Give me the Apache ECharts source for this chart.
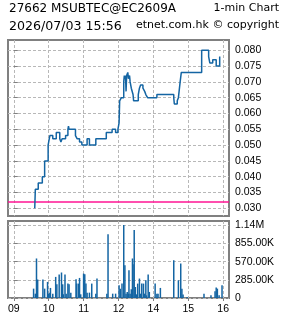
<!DOCTYPE html>
<html>
<head>
    <meta charset="utf-8">
    <title>1-min Chart</title>
    <script src="https://cdn.jsdelivr.net/npm/echarts@6/dist/echarts.min.js"></script>
    <style>
        body { margin: 0; background: #fff; }
    </style>
</head>
<body>
    <div id="main" style="width: 285px;height:318px;"></div>
    <script type="text/javascript">
        // minutes from 09:00, lunch hour removed (12:00 == 13:00)
        var hourTicks = [0, 60, 120, 180, 240, 300, 360];
        var hourLabels = ['09', '10', '11', '12', '14', '15', '16'];
        var xMin = -10, xMax = 370;

        var priceTicks = [0.030, 0.035, 0.040, 0.045, 0.050, 0.055, 0.060, 0.065, 0.070, 0.075, 0.080];
        var prevClose = 0.032;

        var priceTimes = [36, 37, 42, 49, 53, 59, 60, 62, 67, 73, 79, 81, 83, 89, 93, 94, 95, 106, 109, 113, 117, 126, 130, 141,
            159, 169, 175, 179, 181, 182, 185, 189, 190, 191, 192, 193, 194, 196, 197, 199, 200, 202, 205, 206, 214, 216,
            218, 222, 225, 227, 230, 246, 275, 276, 281, 283, 286, 288, 323, 335, 337, 342, 348, 354];
        var priceValues = [0.030, 0.036, 0.038, 0.040, 0.045, 0.050, 0.051, 0.053, 0.052, 0.054, 0.052, 0.051, 0.052, 0.053,
            0.055, 0.056, 0.055, 0.053, 0.052, 0.051, 0.050, 0.052, 0.050, 0.052, 0.054, 0.055, 0.054, 0.055, 0.057, 0.064,
            0.065, 0.070, 0.072, 0.071, 0.072, 0.067, 0.072, 0.073, 0.071, 0.072, 0.070, 0.068, 0.066, 0.064, 0.066, 0.068,
            0.069, 0.068, 0.067, 0.066, 0.065, 0.066, 0.065, 0.063, 0.064, 0.065, 0.070, 0.073, 0.080, 0.078, 0.076, 0.077,
            0.075, 0.078];

        var volTicks = [0, 285000, 570000, 855000, 1140000];
        var volLabels = ['0', '285.00K', '570.00K', '855.00K', '1.14M'];

        var volTimes = [34, 37, 39, 41, 50, 53, 58, 60, 62, 63, 67, 72, 74, 78, 82, 84, 85, 88, 90, 93, 95, 98, 107, 108,
            111, 113, 115, 120, 122, 124, 126, 130, 134, 141, 143, 160, 162, 170, 175, 181, 183, 186, 189, 191, 193, 195,
            197, 198, 200, 202, 204, 205, 207, 209, 211, 213, 216, 218, 220, 223, 225, 227, 228, 231, 233, 243, 246, 248,
            252, 275, 283, 287, 289, 291, 298, 327, 339, 346, 348, 350, 353, 358];
        var volValues = [147000, 68000, 620000, 290000, 290000, 147000, 252000, 68000, 84000, 158000, 68000, 331000, 215000,
            368000, 400000, 215000, 58000, 368000, 68000, 226000, 215000, 84000, 294000, 226000, 226000, 315000, 58000,
            383000, 373000, 226000, 84000, 84000, 226000, 68000, 305000, 68000, 1000000, 68000, 68000, 200000, 147000,
            226000, 1145000, 515000, 68000, 95000, 68000, 436000, 68000, 137000, 620000, 530000, 1066000, 173000, 58000,
            226000, 305000, 68000, 226000, 226000, 68000, 278000, 42000, 368000, 95000, 226000, 68000, 68000, 158000,
            594000, 278000, 541000, 147000, 53000, 16000, 68000, 42000, 105000, 163000, 147000, 42000, 200000];

        var priceData = priceTimes.map(function (t, i) { return [t, priceValues[i]]; });
        var volData = volTimes.map(function (t, i) { return [t, volValues[i]]; });

        var blue = '#1465a3';
        var grey = '#808080';
        var labelFont = { color: '#000', fontSize: 10.5, fontFamily: 'Liberation Sans' };
        var gridDash = { color: '#b8b8b8', width: 1, type: [3, 2] };

        function headText(text, pos, top, size) {
            var t = {
                text: text, top: top, padding: 0,
                textStyle: { color: '#000', fontSize: size, fontWeight: 'normal', fontFamily: 'DejaVu Sans' }
            };
            if (pos.left !== undefined) t.left = pos.left; else t.right = pos.right;
            return t;
        }

        var myChart = echarts.init(document.getElementById('main'));
        var option = {
            animation: false,
            backgroundColor: '#fff',
            title: [
                headText('27662 MSUBTEC@EC2609A', { left: 9 }, 3, 12),
                headText('1-min Chart', { right: 6 }, 3, 11),
                headText('2026/07/03 15:56', { left: 9 }, 20, 12.6),
                headText('etnet.com.hk \u00a9 copyright', { right: 6 }, 20, 11)
            ],
            grid: [
                { left: 8, top: 40, width: 221, height: 176, show: true, borderColor: grey, borderWidth: 2 },
                { left: 8, top: 221, width: 221, height: 77, show: true, borderColor: grey, borderWidth: 2 }
            ],
            xAxis: [
                {
                    type: 'value', gridIndex: 0, min: xMin, max: xMax,
                    axisLine: { show: false },
                    axisTick: { show: false, customValues: hourTicks },
                    axisLabel: { show: false, customValues: hourTicks },
                    splitLine: { show: true, lineStyle: gridDash }
                },
                {
                    type: 'value', gridIndex: 1, min: xMin, max: xMax,
                    axisLine: { show: false },
                    axisTick: { show: true, length: 3, lineStyle: { color: grey }, customValues: hourTicks },
                    axisLabel: Object.assign({
                        margin: 6,
                        customValues: hourTicks,
                        formatter: function (v) { return hourLabels[hourTicks.indexOf(v)]; }
                    }, labelFont),
                    splitLine: { show: true, lineStyle: gridDash }
                }
            ],
            yAxis: [
                {
                    type: 'value', gridIndex: 0, position: 'right', min: 0.02756, max: 0.08326,
                    axisLine: { show: false },
                    axisTick: { show: true, length: 4, lineStyle: { color: grey }, customValues: priceTicks },
                    axisLabel: Object.assign({
                        margin: 6,
                        customValues: priceTicks,
                        formatter: function (v) { return v.toFixed(3); }
                    }, labelFont),
                    splitLine: { show: true, lineStyle: gridDash }
                },
                {
                    type: 'value', gridIndex: 1, position: 'right', min: 0, max: 1208000,
                    axisLine: { show: false },
                    axisTick: { show: true, length: 4, lineStyle: { color: grey }, customValues: volTicks },
                    axisLabel: Object.assign({
                        margin: 6,
                        customValues: volTicks,
                        formatter: function (v) { return volLabels[volTicks.indexOf(v)]; }
                    }, labelFont),
                    splitLine: { show: true, lineStyle: gridDash }
                }
            ],
            series: [
                {
                    name: 'prev close',
                    type: 'line',
                    xAxisIndex: 0, yAxisIndex: 0,
                    symbol: 'none',
                    silent: true,
                    lineStyle: { color: '#ff1493', width: 1.5 },
                    data: [[xMin, prevClose], [xMax, prevClose]]
                },
                {
                    name: 'price',
                    type: 'line',
                    xAxisIndex: 0, yAxisIndex: 0,
                    step: 'end',
                    symbol: 'none',
                    lineStyle: { color: blue, width: 1.5 },
                    data: priceData
                },
                {
                    name: 'volume',
                    type: 'bar',
                    xAxisIndex: 1, yAxisIndex: 1,
                    barWidth: 1.5,
                    itemStyle: { color: blue },
                    data: volData
                }
            ]
        };
        myChart.setOption(option);
    </script>
</body>
</html>
